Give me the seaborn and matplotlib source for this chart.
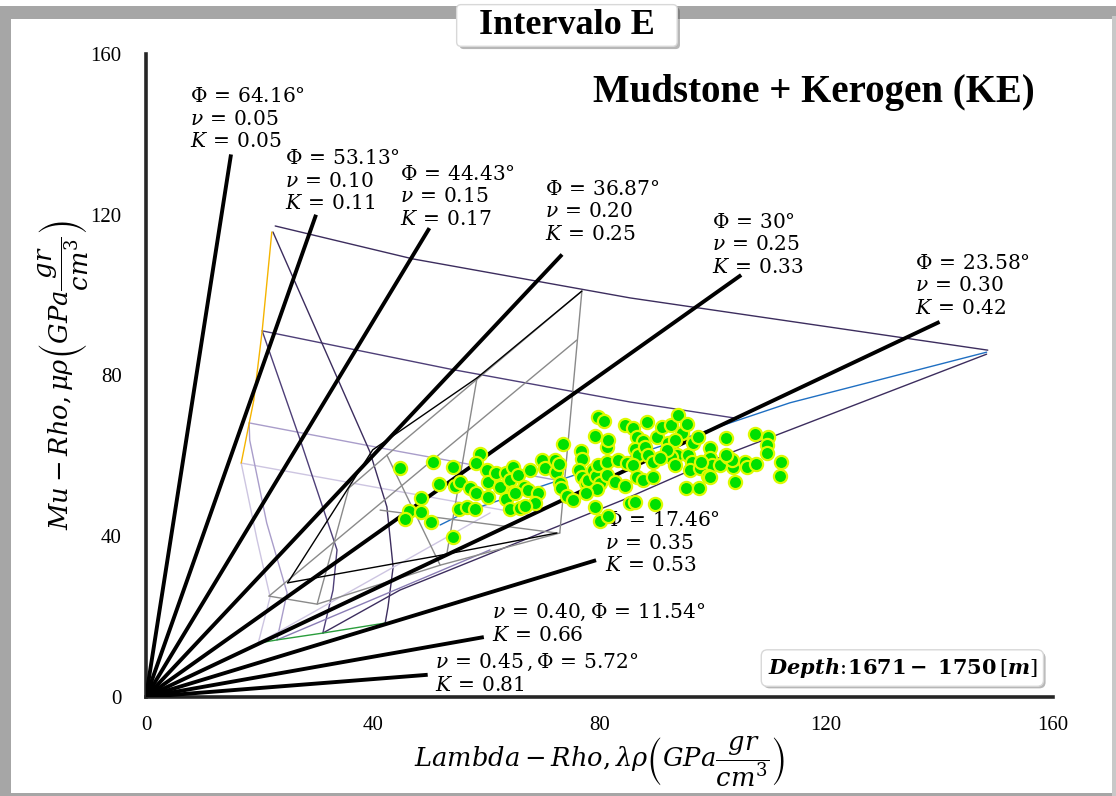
import numpy as np
import pandas as pd
import matplotlib.pyplot as plt
import matplotlib.patheffects as pe
from matplotlib.patches import Rectangle
import seaborn as sns

# %%
# Poisson ratio rays (mu-rho / lambda-rho = (1 - 2 nu) / (2 nu))
nu = [0.05, 0.10, 0.15, 0.20, 0.25, 0.30, 0.35, 0.40, 0.45]
ray_end_lr = [15.0, 30.0, 50.0, 73.4, 105.0, 140.0, 79.4, 59.6, 49.7]

ray_labels = [
    "$\\Phi\\,=\\,64.16°$\n$\\nu\\,=\\,0.05$\n$K\\,=\\,0.05$",
    "$\\Phi\\,=\\,53.13°$\n$\\nu\\,=\\,0.10$\n$K\\,=\\,0.11$",
    "$\\Phi\\,=\\,44.43°$\n$\\nu\\,=\\,0.15$\n$K\\,=\\,0.17$",
    "$\\Phi\\,=\\,36.87°$\n$\\nu\\,=\\,0.20$\n$K\\,=\\,0.25$",
    "$\\Phi\\,=\\,30°$\n$\\nu\\,=\\,0.25$\n$K\\,=\\,0.33$",
    "$\\Phi\\,=\\,23.58°$\n$\\nu\\,=\\,0.30$\n$K\\,=\\,0.42$",
    "$\\Phi\\,=\\,17.46°$\n$\\nu\\,=\\,0.35$\n$K\\,=\\,0.53$",
    "$\\nu\\,=\\,0.40, \\Phi\\,=\\,11.54°$\n$K\\,=\\,0.66$",
    "$\\nu\\,=\\,0.45\\,, \\Phi\\,=\\,5.72°$\n$K\\,=\\,0.81$",
]
label_x = [7.8, 24.5, 44.8, 70.4, 99.8, 135.7, 81.0, 61.0, 51.0]
label_y = [151.5, 136.0, 132.2, 128.5, 120.3, 110.0, 46.0, 23.6, 11.2]

# %%
# Rock physics template curves (lambda-rho, mu-rho)
template = {
    # outer mesh, dark purple
    "r1": ([22.8, 47.1, 85.4, 148.5], [117.2, 109.0, 99.3, 86.3], "#3c2d5e"),
    "r2": ([20.5, 53.6, 85.4, 103.9], [91.1, 81.6, 73.4, 69.4], "#4e3f78"),
    "r3": ([18.2, 45.0, 73.0], [68.2, 61.0, 53.8], "#a99dca"),
    "r4": ([16.8, 42.0, 67.7], [58.2, 51.8, 45.3], "#cdc5e1"),
    "c1": ([22.4, 39.5, 42.5, 43.6, 42.7, 42.2], [115.7, 61.0, 47.3, 32.3, 22.4, 18.4], "#3c2d5e"),
    "c2": ([20.5, 27.2, 33.7, 33.0, 31.2], [91.1, 64.0, 36.6, 26.6, 15.9], "#4e3f78"),
    "c3": ([18.2, 18.3, 21.3, 24.9, 23.1], [68.2, 63.9, 43.3, 25.9, 14.2], "#a99dca"),
    "c4": ([16.8, 19.6, 21.9, 19.8], [58.2, 39.1, 24.9, 13.4], "#cdc5e1"),
    "low1": ([31.2, 44.8, 84.1, 103.0, 148.3], [15.9, 26.6, 49.0, 60.7, 85.3], "#3c2d5e"),
    "low2": ([23.1, 60.7], [14.2, 36.6], "#8a7db5"),
    "low3": ([19.8, 60.7], [13.4, 45.8], "#cdc5e1"),
    "blue": ([51.9, 57.2, 113.6, 148.3], [42.8, 46.5, 73.2, 85.8], "#1f6fc2"),
    "yellow": ([22.2, 20.5, 19.0, 16.8], [115.7, 91.1, 73.7, 58.2], "#f5b400"),
    "green": ([19.8, 23.1, 31.2, 42.2], [13.4, 14.2, 15.9, 18.4], "#2a9d3c"),
    # inner mesh, gray
    "g_right": ([76.9, 73.0], [101.0, 40.8], "#8a8a8a"),
    "g_d1": ([76.9, 43.6, 35.8], [101.0, 61.5, 52.0], "#8a8a8a"),
    "g_d2": ([76.0, 21.7], [88.8, 25.1], "#8a8a8a"),
    "g_row": ([41.3, 72.5], [46.5, 40.8], "#8a8a8a"),
    "g_col1": ([58.4, 53.1], [79.4, 35.8], "#8a8a8a"),
    "g_col2": ([42.5, 51.9], [60.2, 32.8], "#8a8a8a"),
    "g_col3": ([35.8, 30.2], [52.0, 23.1], "#8a8a8a"),
    "g_bottom": ([21.7, 30.2, 51.9, 73.0], [25.1, 23.1, 32.8, 40.8], "#8a8a8a"),
    "k_d1": ([76.9, 58.4, 40.0, 25.0], [101.0, 79.4, 61.5, 28.4], "#000000"),
    "k_bottom": ([25.0, 51.0, 72.5], [28.4, 35.0, 40.8], "#000000"),
}

# %%
# Measured data, Intervalo E
lr_pts = [44.9, 50.6, 54.1, 51.7, 54.5, 55.4, 57.2, 58.3, 58.9, 58.3, 60.1, 60.4, 61.7, 62.4,
          63.5, 64.2, 64.8, 65.7, 64.8, 66.6, 67.4, 67.7, 69.2, 68.6, 69.8, 70.4, 72.1, 72.4,
          72.9, 73.6, 73.0, 73.3, 74.3, 75.4, 60.4, 63.5, 64.2, 66.0, 66.9, 65.1, 48.6, 46.4,
          48.6, 45.7, 50.3, 55.3, 56.7, 58.0, 76.7, 76.9, 76.4, 76.9, 77.6, 78.0, 78.9, 79.4,
          79.8, 80.1, 79.5, 77.7, 79.2, 79.8, 80.8, 79.2, 81.3, 81.5, 81.3, 81.3, 82.7, 83.3,
          84.5, 84.8, 84.5, 86.0, 88.3, 86.6, 87.7, 86.3, 86.8, 88.0, 88.6, 89.5, 86.0, 86.6,
          87.7, 89.5, 90.1, 91.0, 92.1, 92.7, 93.9, 94.5, 95.4, 93.3, 93.6, 92.7, 93.3, 91.9,
          90.7, 95.7, 96.3, 96.5, 97.4, 96.0, 97.7, 99.5, 99.5, 99.8, 99.2, 101.3, 102.4, 102.7,
          103.6, 103.9, 105.7, 106.0, 107.7, 107.4, 109.8, 109.5, 109.5, 112.1, 111.8, 95.3,
          97.6, 85.4, 86.3, 89.8, 80.1, 81.5, 54.1, 99.5, 98.0, 103.3, 102.4]
mr_pts = [56.9, 58.4, 57.3, 52.9, 52.5, 53.6, 51.9, 50.8, 60.5, 58.3, 56.5, 53.6, 55.8, 52.3,
          55.7, 54.0, 57.3, 55.2, 51.1, 52.2, 51.5, 56.5, 50.8, 48.2, 59.0, 56.9, 59.0, 56.1,
          57.9, 62.9, 53.2, 51.9, 50.0, 49.0, 49.7, 49.2, 46.7, 47.0, 47.5, 50.7, 49.6, 46.3,
          46.1, 44.2, 43.6, 46.7, 47.2, 46.7, 61.3, 59.1, 56.5, 54.7, 53.3, 54.0, 56.5, 55.0,
          57.7, 53.2, 51.7, 50.7, 47.2, 69.7, 68.7, 64.9, 62.3, 63.9, 58.5, 55.2, 53.6, 59.0,
          52.5, 58.1, 67.7, 66.9, 68.3, 64.8, 63.8, 61.6, 60.2, 62.3, 60.2, 58.5, 57.7, 54.8,
          54.0, 54.8, 64.8, 67.3, 63.1, 67.7, 70.2, 65.6, 67.9, 63.9, 60.2, 59.8, 57.7, 61.5,
          59.4, 60.2, 58.5, 63.1, 64.8, 56.5, 56.9, 61.9, 59.4, 57.7, 55.0, 57.7, 64.4, 59.8,
          57.3, 53.6, 58.5, 57.3, 57.9, 65.4, 64.8, 62.7, 60.6, 58.5, 55.0, 51.9,
          51.9, 48.2, 48.6, 48.0, 43.9, 45.0, 39.9, 54.8, 58.5, 59.0, 60.2]

df = pd.DataFrame({"lr": lr_pts, "mr": mr_pts})

# %%
sns.set_style("white")
plt.rcParams["font.family"] = ["Liberation Serif", "DejaVu Serif"]
plt.rcParams["mathtext.fontset"] = "dejavuserif"
plt.rcParams["text.color"] = "black"
plt.rcParams["axes.labelcolor"] = "black"
plt.rcParams["xtick.color"] = "black"
plt.rcParams["ytick.color"] = "black"

fig = plt.figure(figsize=(11.16, 7.96), dpi=100)
ax = fig.add_axes([0.1308, 0.1244, 0.8127, 0.8078])

# template
for name, (xs, ys, col) in template.items():
    ax.plot(xs, ys, color=col, lw=1.0, zorder=2)

# rays from origin
for v, x_end in zip(nu, ray_end_lr):
    ax.plot([0, x_end], [0, x_end * (1 - 2 * v) / (2 * v)], color="black", lw=2.8,
            solid_capstyle="butt", zorder=3)

for txt, x, y in zip(ray_labels, label_x, label_y):
    ax.text(x, y, txt, ha="left", va="top", fontsize=14.5, linespacing=1.25, zorder=4)

sns.scatterplot(data=df, x="lr", y="mr", s=90, color="#00e000", edgecolor="#dcfa00",
                linewidth=1.6, zorder=6, ax=ax, legend=False)

ax.set_xlim(0, 160)
ax.set_ylim(0, 160)
ax.set_xticks([0, 40, 80, 120, 160])
ax.set_yticks([0, 40, 80, 120, 160])
ax.set_xticks([20, 60, 100, 140], minor=True)
ax.set_yticks([20, 60, 100, 140], minor=True)
ax.tick_params(which="major", direction="inout", length=11, width=2.2, labelsize=15)
ax.tick_params(which="minor", direction="inout", length=5, width=2.0)
ax.tick_params(axis="y", pad=12)
ax.tick_params(axis="x", pad=8)
for s in ["top", "right"]:
    ax.spines[s].set_visible(False)
for s in ["left", "bottom"]:
    ax.spines[s].set_linewidth(2.6)

ax.set_xlabel(r"$Lambda - Rho, \lambda\rho\left(GPa\dfrac{gr}{cm^3}\right)$", fontsize=18.5, labelpad=0)
ax.set_ylabel(r"$Mu - Rho, \mu\rho\left(GPa\dfrac{gr}{cm^3}\right)$", fontsize=18.5, labelpad=0)

ax.text(0.98, 0.94, "Mudstone + Kerogen (KE)", transform=ax.transAxes, ha="right", va="center",
        fontsize=28, fontweight="bold")

depth = ax.text(0.834, 0.045, r"$\mathbfit{Depth}\!:\!\mathbf{1671-\ 1750}\,[\mathbfit{m}]$",
                transform=ax.transAxes, ha="center", va="center", fontsize=15,
                bbox=dict(boxstyle="round,pad=0.3", fc="white", ec="#d8d8d8", lw=1))
depth.get_bbox_patch().set_path_effects([pe.withSimplePatchShadow(offset=(1.5, -1.5), alpha=0.4)])

# title box and frame
title = fig.text(0.508, 0.968, "  Intervalo E  ", ha="center", va="center", fontsize=26,
                 fontweight="bold",
                 bbox=dict(boxstyle="round,pad=0.12", fc="white", ec="#d8d8d8", lw=1))
title.get_bbox_patch().set_path_effects([pe.withSimplePatchShadow(offset=(2, -2), alpha=0.4)])

fig.patches.append(Rectangle((0, 0.976), 1, 0.016, transform=fig.transFigure,
                             fc="#a6a6a6", ec="none", zorder=-1))
fig.patches.append(Rectangle((0, 0), 0.01, 0.98, transform=fig.transFigure,
                             fc="#a6a6a6", ec="none", zorder=-1))
fig.patches.append(Rectangle((0, 0), 0.997, 0.004, transform=fig.transFigure,
                             fc="#a6a6a6", ec="none", zorder=-1))
fig.patches.append(Rectangle((0.996, 0), 0.004, 0.98, transform=fig.transFigure,
                             fc="#c8c8c8", ec="none", zorder=-1))

fig.savefig("out.png", dpi=100)
